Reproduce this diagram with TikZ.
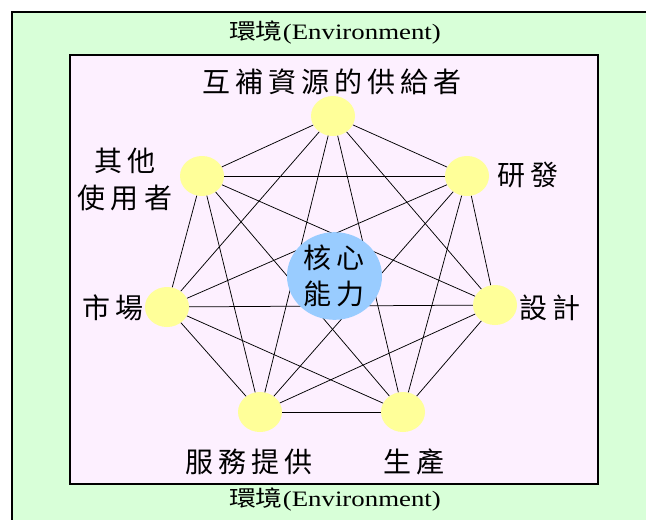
\documentclass[tikz,border=0pt]{standalone}
\usepackage{fontspec}
\usepackage{graphicx}
\setmainfont{Liberation Serif}
\newfontfamily\cjk[LetterSpace=18]{Noto Sans CJK TC}
\newfontfamily\cjkplain{Noto Sans CJK TC}
\usetikzlibrary{shapes.geometric}
\definecolor{envgreen}{RGB}{216,255,216}
\definecolor{innerpink}{RGB}{253,240,255}
\definecolor{nodeyellow}{RGB}{255,255,153}
\definecolor{coreblue}{RGB}{153,204,255}
\tikzset{
  dot/.style={ellipse, fill=nodeyellow, minimum width=44pt, minimum height=40pt, inner sep=0pt},
  core/.style={ellipse, fill=coreblue, minimum width=95pt, minimum height=86pt, inner sep=0pt, align=center, font=\cjk\fontsize{28}{36}\selectfont},
  edge/.style={draw=black, line width=0.75pt},
  lab/.style={inner sep=0pt, font=\cjk\fontsize{28}{37}\selectfont, align=center},
  envlab/.style={inner sep=0pt, font=\fontsize{22}{26}\selectfont}
}
\begin{document}
\begin{tikzpicture}[x=1pt,y=-1pt]
\useasboundingbox (0,0) rectangle (646,520);
\clip (0,0) rectangle (646,520);
\fill[white] (0,0) rectangle (646,520);
\draw[fill=envgreen, line width=1.3pt] (12,12) rectangle (700,560);
\draw[fill=innerpink, line width=1.2pt] (70,55) rectangle (598,484);
\node[envlab] (envtop) at (335,33) {\scalebox{1.22}[1]{{\cjkplain 環境}(Environment)}};
\node[envlab] (envbot) at (335,500) {\scalebox{1.22}[1]{{\cjkplain 環境}(Environment)}};
\node[dot] (t) at (333,116) {};
\node[dot] (r1) at (467,176) {};
\node[dot] (r2) at (495,305) {};
\node[dot] (b2) at (403,412) {};
\node[dot] (b1) at (260,412) {};
\node[dot] (l2) at (167,307) {};
\node[dot] (l1) at (202,176) {};
\foreach \a/\b in {t/r1,t/r2,t/b2,t/b1,t/l2,t/l1,r1/r2,r1/b2,r1/b1,r1/l2,r1/l1,r2/b2,r2/b1,r2/l2,r2/l1,b2/b1,b2/l2,b2/l1,b1/l2,b1/l1,l2/l1}
  \draw[edge] (\a) -- (\b);
\node[core] (c) at (334.5,276) {核心\\能力};
\node[lab] (tl) at (332,82) {互補資源的供給者};
\node[lab, anchor=west] (r1l) at (497,175) {研發};
\node[lab, anchor=west] (r2l) at (519,308) {設計};
\node[lab, anchor=east] (l2l) at (144,308) {市場};
\node[lab] (l1l) at (125,179) {其他\\使用者};
\node[lab] (b1l) at (249,462) {服務提供};
\node[lab] (b2l) at (414,462) {生產};
\end{tikzpicture}
\end{document}
